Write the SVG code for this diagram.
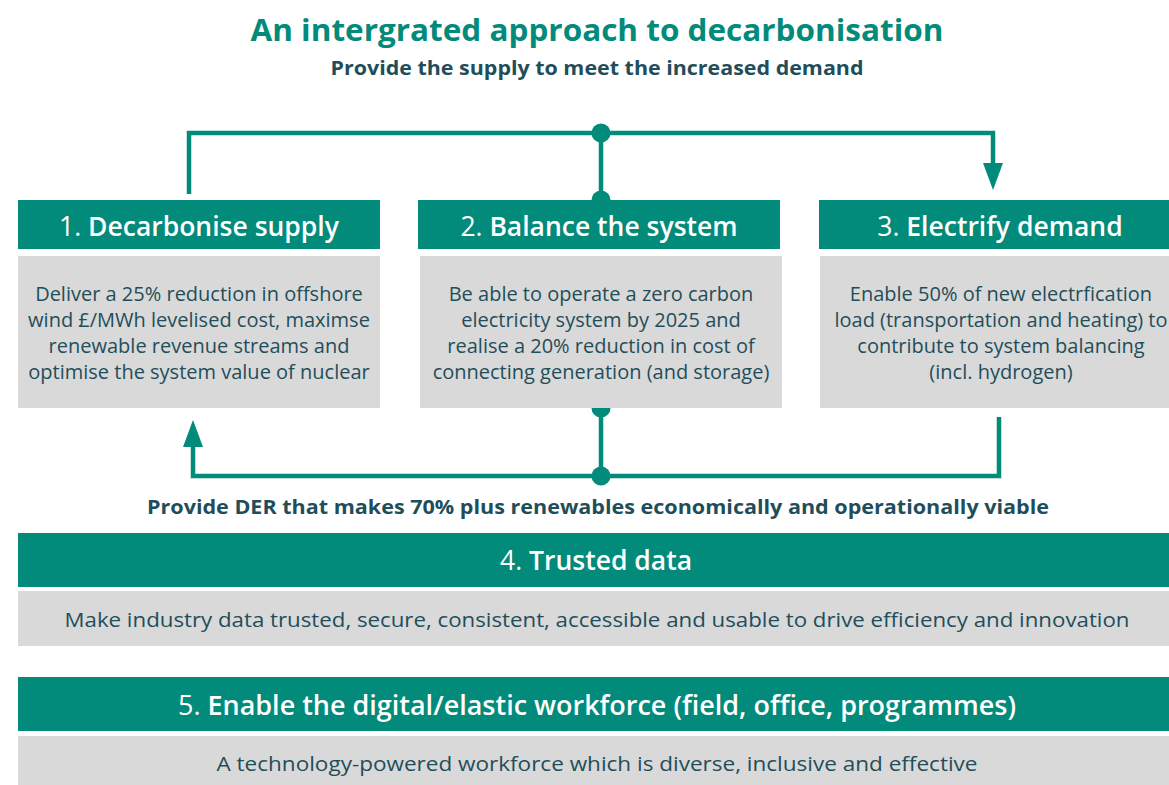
<svg xmlns="http://www.w3.org/2000/svg" width="1169" height="785" viewBox="0 0 1169 785">
<defs>
<style>
.hdr{fill:#028A7A}
.body{fill:#D9D9D9}
.ht{font-family:"Open Sans","Noto Sans",sans-serif;font-size:26.5px;fill:#fff;text-anchor:middle;font-weight:600}
.ht .n{font-weight:400}
.bt{font-family:"Open Sans","Noto Sans",sans-serif;font-size:20px;fill:#1F4E5A;text-anchor:middle}
.conn{stroke:#028A7A;stroke-width:4.5;fill:none}
.dot,.arr{fill:#028A7A}
</style>
</defs>
<rect width="1169" height="785" fill="#fff"/>
<text x="597" y="41" font-family="Open Sans, Noto Sans, sans-serif" font-size="31" font-weight="700" fill="#028A7A" text-anchor="middle" textLength="693" lengthAdjust="spacingAndGlyphs">An intergrated approach to decarbonisation</text>
<text x="597" y="75" font-family="Open Sans, Noto Sans, sans-serif" font-size="20" font-weight="700" fill="#1F4E5A" text-anchor="middle" textLength="533" lengthAdjust="spacingAndGlyphs">Provide the supply to meet the increased demand</text>

<g id="connectors">
<path class="conn" d="M189,194 V133 H993 V165"/>
<polygon class="arr" points="983,163 1003,163 993,190"/>
<path class="conn" d="M601,133 V200"/>
<path class="conn" d="M601,408 V476"/>
<path class="conn" d="M999,417 V476 H193 V445"/>
<polygon class="arr" points="183,447 203,447 193,420"/>
<circle class="dot" cx="601" cy="133" r="9.5"/>
<circle class="dot" cx="601" cy="200" r="9.5"/>
<circle class="dot" cx="601" cy="408" r="9.5"/>
<circle class="dot" cx="601" cy="476" r="9.5"/>
</g>

<g id="node1">
<rect class="hdr" x="18" y="200" width="362" height="49"/>
<rect class="body" x="18" y="256" width="362" height="152"/>
<text class="ht" x="199" y="236"><tspan class="n">1. </tspan>Decarbonise supply</text>
<text class="bt" x="199" y="301">Deliver a 25% reduction in offshore</text>
<text class="bt" x="199" y="327">wind £/MWh levelised cost, maximse</text>
<text class="bt" x="199" y="353">renewable revenue streams and</text>
<text class="bt" x="199" y="379">optimise the system value of nuclear</text>
</g>

<g id="node2">
<rect class="hdr" x="418" y="200" width="362" height="49"/>
<rect class="body" x="420" y="256" width="362" height="152"/>
<text class="ht" x="599" y="236"><tspan class="n">2. </tspan>Balance the system</text>
<text class="bt" x="601" y="301">Be able to operate a zero carbon</text>
<text class="bt" x="601" y="327">electricity system by 2025 and</text>
<text class="bt" x="601" y="353">realise a 20% reduction in cost of</text>
<text class="bt" x="601" y="379">connecting generation (and storage)</text>
</g>

<g id="node3">
<rect class="hdr" x="819" y="200" width="362" height="49"/>
<rect class="body" x="820" y="256" width="362" height="152"/>
<text class="ht" x="1000" y="236"><tspan class="n">3. </tspan>Electrify demand</text>
<text class="bt" x="1001" y="301">Enable 50% of new electrfication</text>
<text class="bt" x="1001" y="327">load (transportation and heating) to</text>
<text class="bt" x="1001" y="353">contribute to system balancing</text>
<text class="bt" x="1001" y="379">(incl. hydrogen)</text>
</g>

<text x="598" y="514" font-family="Open Sans, Noto Sans, sans-serif" font-size="20" font-weight="700" fill="#1F4E5A" text-anchor="middle" textLength="902" lengthAdjust="spacingAndGlyphs">Provide DER that makes 70% plus renewables economically and operationally viable</text>

<g id="node4">
<rect class="hdr" x="18" y="533" width="1158" height="54"/>
<rect class="body" x="18" y="591" width="1158" height="55"/>
<text class="ht" x="596" y="570"><tspan class="n">4. </tspan>Trusted data</text>
<text class="bt" x="597" y="627" font-size="22" textLength="1065" lengthAdjust="spacingAndGlyphs">Make industry data trusted, secure, consistent, accessible and usable to drive efficiency and innovation</text>
</g>

<g id="node5">
<rect class="hdr" x="18" y="677" width="1158" height="54"/>
<rect class="body" x="18" y="736" width="1158" height="49"/>
<text class="ht" x="597" y="715" textLength="838" lengthAdjust="spacingAndGlyphs"><tspan class="n">5. </tspan>Enable the digital/elastic workforce (field, office, programmes)</text>
<text class="bt" x="597" y="771" font-size="22" textLength="761" lengthAdjust="spacingAndGlyphs">A technology-powered workforce which is diverse, inclusive and effective</text>
</g>
</svg>
